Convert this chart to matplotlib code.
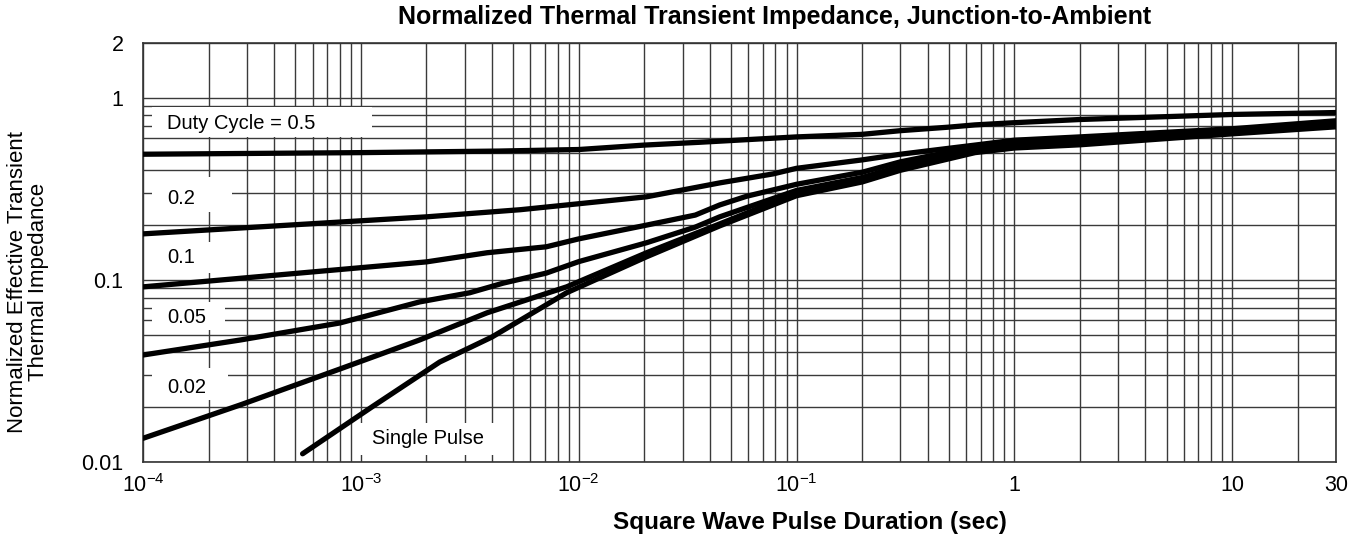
import matplotlib
matplotlib.use('Agg')
import matplotlib.pyplot as plt
from matplotlib.patches import Rectangle

plt.rcParams['font.family'] = ['Liberation Sans', 'DejaVu Sans']
plt.rcParams['mathtext.fontset'] = 'custom'
plt.rcParams['mathtext.rm'] = 'Liberation Sans'
plt.rcParams['mathtext.it'] = 'Liberation Sans:italic'
plt.rcParams['mathtext.bf'] = 'Liberation Sans:bold'

t_05 = [1e-4, 1e-3, 4.3e-3, 1e-2, 0.02, 0.036, 0.1, 0.2, 0.3, 0.5, 0.66, 1, 2, 10, 30]
z_05 = [0.49, 0.50, 0.51, 0.52, 0.55, 0.57, 0.61, 0.63, 0.66, 0.69, 0.71, 0.73, 0.76, 0.81, 0.83]

t_02 = [1e-4, 2e-3, 5.4e-3, 1e-2, 0.0205, 0.0444, 0.078, 0.1, 0.2, 0.3, 0.66, 1, 2, 10, 30]
z_02 = [0.179, 0.222, 0.243, 0.262, 0.286, 0.341, 0.382, 0.41, 0.456, 0.49, 0.55, 0.585, 0.61, 0.676, 0.748]

t_01 = [1e-4, 2e-3, 3.8e-3, 7.1e-3, 1e-2, 0.0205, 0.0343, 0.0444, 0.059, 0.078, 0.1, 0.2, 0.3, 0.66, 1, 2, 10, 30]
z_01 = [0.0916, 0.1256, 0.141, 0.152, 0.168, 0.20, 0.227, 0.258, 0.288, 0.312, 0.335, 0.39, 0.445, 0.538, 0.566, 0.596, 0.667, 0.729]

t_005 = [1e-4, 2.8e-4, 8e-4, 1.86e-3, 3.16e-3, 4.5e-3, 7.1e-3, 1e-2, 0.0205, 0.0343, 0.0444, 0.1, 0.2, 0.3, 0.66, 1, 2, 10, 30]
z_005 = [0.0387, 0.0468, 0.058, 0.0757, 0.085, 0.096, 0.109, 0.126, 0.16, 0.195, 0.222, 0.31, 0.365, 0.42, 0.52, 0.55, 0.581, 0.65, 0.711]

t_002 = [1e-4, 2.8e-4, 8e-4, 1.86e-3, 3.8e-3, 8.8e-3, 0.0205, 0.0444, 0.1, 0.2, 0.3, 0.66, 1, 2, 10, 30]
z_002 = [0.0135, 0.0206, 0.0324, 0.0468, 0.066, 0.0916, 0.141, 0.203, 0.30, 0.355, 0.41, 0.51, 0.54, 0.566, 0.642, 0.702]

t_sp = [5.4e-4, 1.14e-3, 2.3e-3, 3.0e-3, 4.0e-3, 8.8e-3, 0.0205, 0.0444, 0.1, 0.2, 0.3, 0.66, 1, 2, 10, 30]
z_sp = [0.0111, 0.0203, 0.0354, 0.0412, 0.0486, 0.085, 0.134, 0.198, 0.29, 0.345, 0.40, 0.50, 0.53, 0.552, 0.634, 0.693]

x_ticks = [1e-4, 1e-3, 1e-2, 1e-1, 1, 10, 30]
x_labels = ['$10^{-4}$', '$10^{-3}$', '$10^{-2}$', '$10^{-1}$', '1', '10', '30']
y_ticks = [0.01, 0.1, 1, 2]
y_labels = ['0.01', '0.1', '1', '2']

curve_labels = ['Duty Cycle = 0.5', '0.2', '0.1', '0.05', '0.02', 'Single Pulse']

fig = plt.figure(figsize=(13.56, 5.4), dpi=100)
ax = fig.add_axes([0.1055, 0.1444, 0.8798, 0.776])
ax.set_xscale('log')
ax.set_yscale('log')
ax.set_xlim(1e-4, 30)
ax.set_ylim(0.01, 2)

ax.set_xticks(x_ticks)
ax.set_xticklabels(x_labels)
ax.set_xticks([m * 10.0**e for e in range(-4, 2) for m in range(2, 10) if m * 10.0**e < 30], minor=True)
ax.set_yticks(y_ticks)
ax.set_yticklabels(y_labels)
ax.set_yticks([m * 10.0**e for e in (-2, -1) for m in range(2, 10)], minor=True)
ax.tick_params(which='both', length=0)
ax.tick_params(axis='x', labelsize=15.5, pad=9)
ax.tick_params(axis='y', labelsize=15.5, pad=14)

ax.set_axisbelow(True)
ax.grid(which='both', color='#3a3a3a', linewidth=1.0)
for s in ax.spines.values():
    s.set_color('#333333')
    s.set_linewidth(1.2)

for t, z in [(t_05, z_05), (t_02, z_02), (t_01, z_01), (t_005, z_005), (t_002, z_002), (t_sp, z_sp)]:
    ax.plot(t, z, color='black', linewidth=3.8, solid_capstyle='round', solid_joinstyle='round', zorder=3)

# white label boxes (axes fraction)
boxes = [(0.0075, 0.7757, 0.1844, 0.0716),
         (0.0075, 0.5967, 0.0671, 0.0835),
         (0.0075, 0.4510, 0.0671, 0.0740),
         (0.0075, 0.3150, 0.0612, 0.0668),
         (0.0075, 0.1480, 0.0637, 0.0764),
         (0.1794, 0.0167, 0.1174, 0.0764)]
text_pos = [(0.0201, 0.809), (0.0201, 0.630), (0.0201, 0.487),
            (0.0201, 0.3437), (0.0201, 0.179), (0.192, 0.0573)]
for (bx, by, bw, bh), (tx, ty), lab in zip(boxes, text_pos, curve_labels):
    ax.add_patch(Rectangle((bx, by), bw, bh, transform=ax.transAxes,
                           facecolor='white', edgecolor='none', zorder=2.5))
    ax.text(tx, ty, lab, transform=ax.transAxes, fontsize=14.5, ha='left', va='center', zorder=4)

fig.text(0.5715, 0.9685, 'Normalized Thermal Transient Impedance, Junction-to-Ambient',
         fontsize=18, fontweight='bold', ha='center', va='center')
fig.text(0.5973, 0.0315, 'Square Wave Pulse Duration (sec)',
         fontsize=17.5, fontweight='bold', ha='center', va='center')
fig.text(0.0206, 0.4778, 'Normalized Effective Transient\nThermal Impedance',
         fontsize=16, rotation=90, ha='center', va='center', linespacing=1.0)

fig.savefig('out.png', dpi=100)
